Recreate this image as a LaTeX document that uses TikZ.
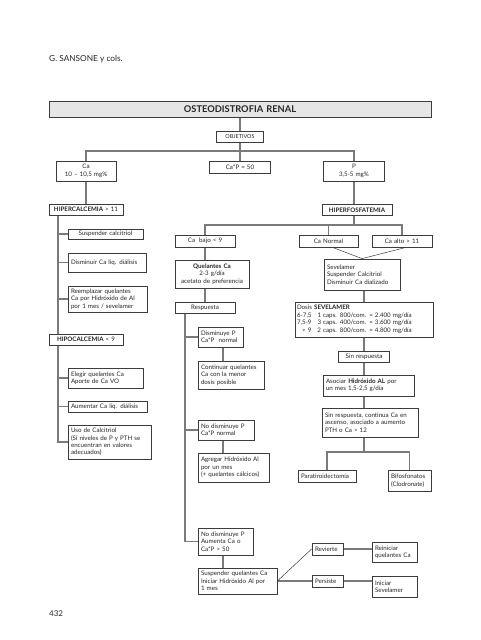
\documentclass[tikz,border=0pt]{standalone}
\usepackage{fontspec}
\setmainfont{Lato}
\usetikzlibrary{backgrounds}
\definecolor{boxc}{HTML}{3C3C3C}
\definecolor{linec}{HTML}{7A7A7A}
\definecolor{txtc}{HTML}{262626}
\definecolor{titfill}{HTML}{E6E6E6}
\tikzset{
 bx/.style={draw=boxc, line width=0.8pt, fill=white, inner xsep=3pt, inner ysep=0pt,
   font=\fontsize{6.2}{7.4}\selectfont, align=left, text=txtc},
 ctr/.style={align=center},
 wh/.code 2 args={\pgfmathsetmacro\tw{#1-6}\edef\tmp{\noexpand\tikzset{text width=\tw pt,minimum height=#2pt}}\tmp},
 cn/.style={draw=linec, line width=1.1pt},
 diag/.style={draw=boxc, line width=0.5pt},
 plain/.style={inner sep=0pt, text=txtc}
}
\begin{document}
\begin{tikzpicture}[x=1pt,y=-1pt]
\useasboundingbox (0,0) rectangle (480,640);
\node[plain, anchor=west, font=\fontsize{8.3}{9}\selectfont] (hdr) at (49,59) {G. SANSONE y cols.};
\node[plain, anchor=west, font=\fontsize{8}{9}\selectfont] (pg) at (49,614) {432};

\node[bx, fill=titfill, ctr, wh={382}{16}, font=\fontsize{9.3}{10}\selectfont\bfseries] (title) at (240,109) {OSTEODISTROFIA RENAL};
\node[bx, ctr, wh={47}{11}, font=\fontsize{5.5}{6}\selectfont] (obj) at (240,136.5) {OBJETIVOS};
\node[bx, ctr, wh={60}{20}] (ca) at (86,171) {Ca\\10 -- 10,5 mg\%};
\node[bx, ctr, wh={61}{12}] (cap) at (240,167) {Ca*P = 50};
\node[bx, ctr, wh={61}{20}] (p) at (354,171) {P\\3,5-5 mg\%};

\node[bx, ctr, wh={74}{11}] (hiper) at (86,209.5) {\textbf{HIPERCALCEMIA} > 11};
\node[bx, ctr, wh={70}{11}] (hiperf) at (357,210) {\textbf{HIPERFOSFATEMIA}};

\node[bx, ctr, wh={75}{10}] (susp) at (105.5,234) {Suspender calcitriol};
\node[bx, wh={78}{19}] (dism) at (107,262.5) {Disminuir Ca liq. diálisis};
\node[bx, wh={79}{26}] (reem) at (107.5,299) {Reemplazar quelantes\\Ca por Hidróxido de Al\\por 1 mes / sevelamer};
\node[bx, ctr, wh={74}{11}] (hipo) at (86,339.5) {\textbf{HIPOCALCEMIA} < 9};
\node[bx, wh={75}{20}] (eleg) at (105.5,378) {Elegir quelantes Ca\\Aporte de Ca VO};
\node[bx, wh={79}{11}] (aum) at (107.5,406.5) {Aumentar Ca liq. diálisis};
\node[bx, wh={83}{34}] (uso) at (109.5,442) {Uso de Calcitriol\\(Si niveles de P y PTH se\\encuentran en valores\\adecuados)};

\node[bx, ctr, wh={60}{12}] (cabajo) at (205,241) {Ca \ bajo < 9};
\node[bx, ctr, wh={59}{12}] (canorm) at (328.5,241) {Ca Normal};
\node[bx, ctr, wh={60}{12}] (caalto) at (402,241) {Ca alto > 11};

\node[bx, ctr, wh={74}{28}] (quel) at (212,274) {\textbf{Quelantes Ca}\\2-3 g/día\\acetato de preferencia};
\node[bx, ctr, wh={60}{11}] (resp) at (205,307.5) {Respuesta};
\node[bx, wh={45}{20}] (dismi) at (220.5,337) {Disminuye P\\Ca*P \ normal};
\node[bx, wh={66}{28}] (cont) at (231,375) {Continuar quelantes\\Ca con la menor\\dosis posible};
\node[bx, wh={56}{20}] (nodis) at (226,430) {No disminuye P\\Ca*P normal};
\node[bx, wh={71}{29}] (agr) at (233.5,467.5) {Agregar Hidróxido Al\\por un mes\\(+ quelantes cálcicos)};
\node[bx, wh={55}{27}] (nodis2) at (225.5,541.5) {No disminuye P\\Aumenta Ca o\\Ca*P > 50};
\node[bx, wh={79}{26}] (suspq) at (237.5,581) {Suspender quelantes Ca\\Iniciar Hidróxido Al por\\1 mes};
\node[bx, wh={31}{12}] (rev) at (327.5,549) {Revierte};
\node[bx, wh={31}{12}] (pers) at (327.5,581) {Persiste};
\node[bx, wh={45}{20}] (rein) at (394.5,552) {Reiniciar\\quelantes Ca};
\node[bx, wh={45}{21}] (inic) at (394.5,586.5) {Iniciar\\Sevelamer};

\node[bx, wh={76}{31}] (sev) at (362,274.5) {Sevelamer\\Suspender Calcitriol\\Disminuir Ca dializado};
\node[bx, inner xsep=2pt, text width=134pt, minimum height=35pt] (dosis) at (364,319.5) {\begin{tabular}{@{}l@{\hspace{6pt}}l@{}}
\multicolumn{2}{@{}l@{}}{Dosis \textbf{SEVELAMER}}\\
6-7,5 & 1 caps. 800/com. = 2.400 mg/día\\
7,5-9 & 3 caps. 400/com. = 3.600 mg/día\\
\hfill > 9 & 2 caps. 800/com. = 4.800 mg/día
\end{tabular}};
\node[bx, ctr, wh={51}{11}] (sinr) at (364,356.5) {Sin respuesta};
\node[bx, wh={91}{21}] (asoc) at (368.5,385.5) {Asociar \textbf{Hidróxido AL} por\\un mes 1,5-2,5 g/día};
\node[bx, wh={96}{29}] (sinr2) at (370,422.5) {Sin respuesta, continua Ca en\\ascenso, asociado a aumento\\PTH o Ca > 12};
\node[bx, wh={58}{12}] (parat) at (327,476) {Paratiroidectomía};
\node[bx, wh={43}{21}] (bifo) at (409.5,480.5) {Bifosfonatos\\(Clodronate)};

\coordinate (hb) at (240,151);
\coordinate (fb) at (354,225);
\coordinate (lt) at (58,215);
\coordinate (rt) at (185,313);
\coordinate (pb) at (364,452);
\coordinate (qx) at (223,0);

\begin{scope}[on background layer]
\draw[cn] (title.south) -- (obj.north);
\draw[cn] (obj.south) -- (cap.north);
\draw[cn] (ca.north) |- (hb) -| (p.north);
\draw[cn] (ca.south) -- (hiper.north);
\draw[cn] (p.south) -- (fb);
\draw[cn] (lt) |- (susp.west);
\draw[cn] (lt) |- (dism.west);
\draw[cn] (lt) |- (reem.west);
\draw[cn] (lt) |- (eleg.west);
\draw[cn] (lt) |- (aum.west);
\draw[cn] (lt) |- (uso.west);
\draw[cn] (cabajo.north) |- (fb) -| (caalto.north);
\draw[cn] (canorm.north) -- (canorm.north |- fb);
\draw[cn] (cabajo.south) -- (cabajo.south |- quel.north);
\draw[cn] (resp.north |- quel.south) -- (resp.north);
\draw[cn] (rt) |- (dismi.west);
\draw[cn] (rt) |- (nodis.west);
\draw[cn] (rt) |- (nodis2.west);
\draw[cn] (dismi.south -| qx) -- (cont.north -| qx);
\draw[cn] (nodis.south -| qx) -- (agr.north -| qx);
\draw[cn] (nodis2.south -| qx) -- (suspq.north -| qx);
\draw[cn] (suspq.east) -- (pers.west);
\draw[cn] (rev.east) -- (rev.east -| rein.west);
\draw[cn] (pers.east) -- (pers.east -| inic.west);
\draw[cn] (sev.south -| dosis.north) -- (dosis.north);
\draw[cn] (dosis.south) -- (sinr.north);
\draw[cn] (sinr.south) -- (sinr.south |- asoc.north);
\draw[cn] (asoc.south -| sinr.south) -- (sinr2.north -| sinr.south);
\draw[cn] (sinr2.south -| sinr.south) -- (pb);
\draw[cn] (parat.north) |- (pb) -| (bifo.north);
\end{scope}
\draw[diag] (suspq.east) -- (rev.west);
\draw[diag] (canorm.south) ++(4,0) -- (sev.north);
\draw[diag] (caalto.south) ++(4,0) -- (sev.north);
\end{tikzpicture}
\end{document}
